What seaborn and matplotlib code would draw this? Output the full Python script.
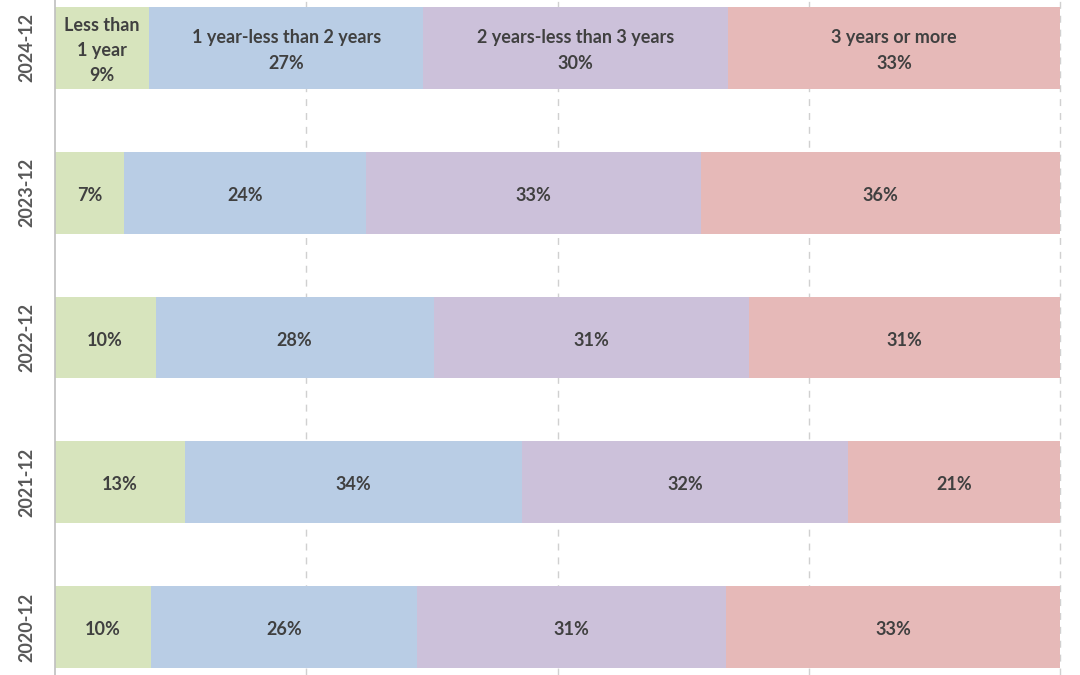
import matplotlib
matplotlib.use("Agg")
import matplotlib.pyplot as plt
import seaborn as sns
import pandas as pd
import numpy as np

periods = ["2024-12", "2023-12", "2022-12", "2021-12", "2020-12"]
segments = ["Less than\n1 year", "1 year-less than 2 years", "2 years-less than 3 years", "3 years or more"]
less_1y = [9.4, 6.9, 10.0, 12.9, 9.6]
y1_2 = [27.2, 24.0, 27.7, 33.6, 26.4]
y2_3 = [30.4, 33.4, 31.4, 32.4, 30.8]
y3_plus = [33.0, 35.7, 30.9, 21.1, 33.2]
colors = ["#d7e4bd", "#b9cde5", "#ccc1da", "#e6b9b8"]

sns.set_theme(style="white")
plt.rcParams["font.family"] = ["Lato", "DejaVu Sans"]

df = pd.DataFrame({"period": periods, "s0": less_1y, "s1": y1_2, "s2": y2_3, "s3": y3_plus})
cols = ["s0", "s1", "s2", "s3"]
cum = df[cols].cumsum(axis=1)
for i, c in enumerate(cols):
    df["cum" + c] = cum[c]

fig = plt.figure(figsize=(10.8, 6.75), dpi=100)
ax = fig.add_axes([55 / 1080, 0, 1005 / 1080, 1])

for i in reversed(range(4)):
    sns.barplot(data=df, x="cum" + cols[i], y="period", order=periods, orient="h",
                color=colors[i], saturation=1, width=0.565, ax=ax, edgecolor="none", linewidth=0,
                zorder=2)

ax.set_xlim(0, 100)
ax.set_ylim(4.331, -0.331)
ax.set_xticks([25, 50, 75, 100])
ax.set_xticklabels([])
ax.xaxis.grid(True, color="#d0d0d0", linestyle=(0, (5, 5)), linewidth=1)
for gl in ax.get_xgridlines():
    gl.set_clip_on(False)
ax.yaxis.grid(False)
ax.set_axisbelow(True)
for s in ["top", "right", "bottom"]:
    ax.spines[s].set_visible(False)
ax.spines["left"].set_color("#bfbfbf")
ax.spines["left"].set_linewidth(1.2)
ax.tick_params(axis="y", length=0, pad=14)
ax.tick_params(axis="x", length=0)
ax.set_xlabel("")
ax.set_ylabel("")
for lab in ax.get_yticklabels():
    lab.set_rotation(90)
    lab.set_va("center")
    lab.set_fontsize(13)
    lab.set_fontweight("bold")
    lab.set_color("#595959")

txt_color = "#404040"
for r, p in enumerate(periods):
    left = 0.0
    for i, c in enumerate(cols):
        v = df.loc[r, c]
        ctr = left + v / 2
        pct = f"{v:.0f}%"
        label = f"{segments[i]}\n{pct}" if r == 0 else pct
        ax.text(ctr, r + 0.018, label, ha="center", va="center", fontsize=13,
                fontweight="bold", color=txt_color, linespacing=1.6, zorder=3)
        left += v

fig.savefig("out.png", dpi=100)
